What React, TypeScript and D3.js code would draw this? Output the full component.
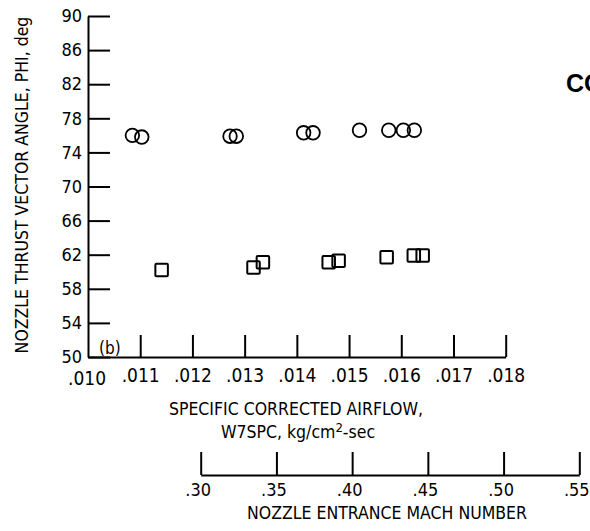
import * as d3 from 'd3';
import React, { useEffect, useRef } from 'react';

// circles (upper family) and squares (lower family)
const circleAirflow = [0.01085, 0.01103, 0.01272, 0.01284, 0.01413, 0.01431, 0.0152, 0.01576, 0.01604, 0.01625];
const circlePhi = [76.0, 75.8, 75.9, 75.9, 76.3, 76.3, 76.6, 76.6, 76.6, 76.6];
const squareAirflow = [0.01141, 0.01317, 0.01335, 0.01461, 0.0148, 0.01572, 0.01624, 0.01641];
const squarePhi = [60.2, 60.5, 61.1, 61.1, 61.3, 61.7, 61.9, 61.9];

const phiTicks = [50, 54, 58, 62, 66, 70, 74, 78, 82, 86, 90];
const airflowTicks = [0.010, 0.011, 0.012, 0.013, 0.014, 0.015, 0.016, 0.017, 0.018];
const machTicks = [0.30, 0.35, 0.40, 0.45, 0.50, 0.55];

const FONT = '"Liberation Sans Narrow", "DejaVu Sans Condensed", "Liberation Sans", sans-serif';

export default function App() {
  const svgRef = useRef<SVGSVGElement | null>(null);

  const width = 590;
  const height = 531;

  useEffect(() => {
    const x = d3.scaleLinear().domain([0.010, 0.018]).range([88, 505.7]);
    const y = d3.scaleLinear().domain([50, 90]).range([357, 16]);
    const mach = d3.scaleLinear().domain([0.30, 0.55]).range([200.7, 579.3]);

    const svg = d3.select(svgRef.current);
    svg.selectAll('*').remove();

    const fmt = (v: number, digits: number) => v.toFixed(digits).replace(/^0/, '');

    // y axis, ticks pointing right into the plot
    svg.append('g')
      .attr('transform', 'translate(88,0)')
      .call(d3.axisLeft(y).tickValues(phiTicks).tickSizeInner(-22).tickSizeOuter(0).tickPadding(6).tickFormat(d => String(d)))
      .call(g => g.selectAll('text').attr('font-size', 18).attr('font-family', FONT).attr('fill', '#000'))
      .call(g => g.selectAll('line, path').attr('stroke', '#000').attr('stroke-width', 2));

    // airflow axis, ticks pointing up
    svg.append('g')
      .attr('transform', 'translate(0,357)')
      .call(d3.axisBottom(x).tickValues(airflowTicks.slice(1)).tickSizeInner(-22).tickSizeOuter(0).tickPadding(12).tickFormat(d => fmt(+d, 3)))
      .call(g => g.selectAll('text').attr('font-size', 19).attr('font-family', FONT).attr('fill', '#000'))
      .call(g => g.selectAll('line, path').attr('stroke', '#000').attr('stroke-width', 2));

    svg.append('text')
      .attr('x', x(0.010) - 1)
      .attr('y', 385)
      .attr('text-anchor', 'middle')
      .attr('font-size', 19)
      .attr('font-family', FONT)
      .text(fmt(0.010, 3));

    // Mach number axis
    svg.append('g')
      .attr('transform', 'translate(0,475)')
      .call(d3.axisBottom(mach).tickValues(machTicks).tickSizeInner(-23).tickSizeOuter(0).tickPadding(8).tickFormat(d => fmt(+d, 2)))
      .call(g => g.selectAll('text').attr('font-size', 18).attr('font-family', FONT).attr('fill', '#000').attr('dx', -3))
      .call(g => g.selectAll('line, path').attr('stroke', '#000').attr('stroke-width', 2));

    // titles
    svg.append('text')
      .attr('transform', 'translate(28,185) rotate(-90)')
      .attr('text-anchor', 'middle')
      .attr('font-size', 17.5)
      .attr('font-family', FONT)
      .text('NOZZLE THRUST VECTOR ANGLE, PHI, deg');

    svg.append('text')
      .attr('x', 296).attr('y', 415)
      .attr('text-anchor', 'middle')
      .attr('font-size', 17.5)
      .attr('font-family', FONT)
      .text('SPECIFIC CORRECTED AIRFLOW,');

    const t2 = svg.append('text')
      .attr('x', 298).attr('y', 438)
      .attr('text-anchor', 'middle')
      .attr('font-size', 17.5)
      .attr('font-family', FONT);
    t2.append('tspan').text('W7SPC, kg/cm');
    t2.append('tspan').attr('dy', -6).attr('font-size', 13).text('2');
    t2.append('tspan').attr('dy', 6).text('-sec');

    svg.append('text')
      .attr('x', 387).attr('y', 519)
      .attr('text-anchor', 'middle')
      .attr('font-size', 17.5)
      .attr('font-family', FONT)
      .text('NOZZLE ENTRANCE MACH NUMBER');

    svg.append('text')
      .attr('x', 99).attr('y', 354)
      .attr('font-size', 17)
      .attr('font-family', FONT)
      .text('(b)');

    svg.append('text')
      .attr('x', 566).attr('y', 92)
      .attr('font-size', 25)
      .attr('font-weight', 'bold')
      .attr('font-family', '"Liberation Sans", Arial, sans-serif')
      .text('CO');

    // data
    svg.append('g')
      .selectAll('circle')
      .data(d3.range(circleAirflow.length))
      .join('circle')
      .attr('cx', i => x(circleAirflow[i]))
      .attr('cy', i => y(circlePhi[i]))
      .attr('r', 6.8)
      .attr('fill', 'none')
      .attr('stroke', '#000')
      .attr('stroke-width', 1.8);

    const s = 12.5;
    svg.append('g')
      .selectAll('rect')
      .data(d3.range(squareAirflow.length))
      .join('rect')
      .attr('x', i => x(squareAirflow[i]) - s / 2)
      .attr('y', i => y(squarePhi[i]) - s / 2)
      .attr('width', s)
      .attr('height', s)
      .attr('rx', 1)
      .attr('fill', 'none')
      .attr('stroke', '#000')
      .attr('stroke-width', 2);
  }, []);

  return (
    <svg
      ref={svgRef}
      width={width}
      height={height}
      viewBox={`0 0 ${width} ${height}`}
      style={{ position: 'absolute', left: 0, top: 0, background: '#fff' }}
    />
  );
}
